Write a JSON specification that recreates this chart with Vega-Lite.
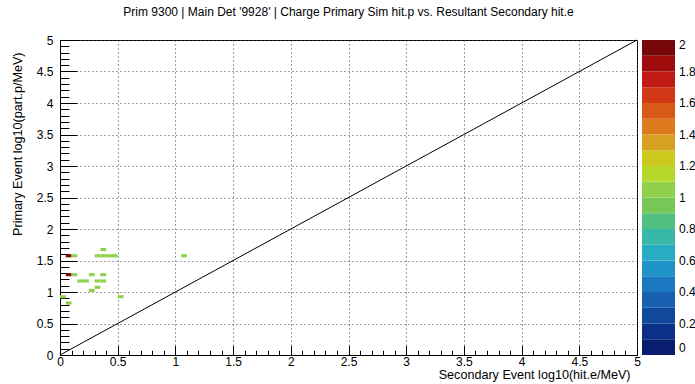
{
  "$schema": "https://vega.github.io/schema/vega-lite/v6.json",
  "width": 577,
  "height": 315,
  "autosize": {"type": "none"},
  "padding": {"left": 60, "top": 40, "right": 58, "bottom": 29},
  "background": "white",
  "title": {
    "text": "Prim 9300 | Main Det '9928' | Charge Primary Sim hit.p vs. Resultant Secondary hit.e",
    "fontSize": 12,
    "font": "Liberation Sans",
    "fontWeight": "normal",
    "color": "black",
    "anchor": "middle",
    "offset": 15
  },
  "config": {
    "view": {"stroke": "black", "strokeWidth": 1},
    "axis": {
      "labelFont": "Liberation Sans",
      "titleFont": "Liberation Sans",
      "labelFontSize": 12,
      "titleFontSize": 12.6,
      "titleFontWeight": "normal",
      "labelColor": "black",
      "titleColor": "black",
      "domainColor": "black",
      "tickColor": "black",
      "labelFlush": false,
      "labelOverlap": false
    }
  },
  "datasets": {
    "cells": [
      {"x0": 0.05, "x1": 0.10, "y0": 1.55, "y1": 1.60, "v": 2},
      {"x0": 0.10, "x1": 0.15, "y0": 1.55, "y1": 1.60, "v": 1},
      {"x0": 0.30, "x1": 0.35, "y0": 1.55, "y1": 1.60, "v": 1},
      {"x0": 0.35, "x1": 0.40, "y0": 1.55, "y1": 1.60, "v": 1},
      {"x0": 0.40, "x1": 0.45, "y0": 1.55, "y1": 1.60, "v": 1},
      {"x0": 0.45, "x1": 0.50, "y0": 1.55, "y1": 1.60, "v": 1},
      {"x0": 0.35, "x1": 0.40, "y0": 1.65, "y1": 1.70, "v": 1},
      {"x0": 1.05, "x1": 1.10, "y0": 1.55, "y1": 1.60, "v": 1},
      {"x0": 0.05, "x1": 0.10, "y0": 1.25, "y1": 1.30, "v": 2},
      {"x0": 0.10, "x1": 0.15, "y0": 1.25, "y1": 1.30, "v": 1},
      {"x0": 0.25, "x1": 0.30, "y0": 1.25, "y1": 1.30, "v": 1},
      {"x0": 0.35, "x1": 0.40, "y0": 1.25, "y1": 1.30, "v": 1},
      {"x0": 0.15, "x1": 0.20, "y0": 1.15, "y1": 1.20, "v": 1},
      {"x0": 0.20, "x1": 0.25, "y0": 1.15, "y1": 1.20, "v": 1},
      {"x0": 0.30, "x1": 0.35, "y0": 1.15, "y1": 1.20, "v": 1},
      {"x0": 0.35, "x1": 0.40, "y0": 1.15, "y1": 1.20, "v": 1},
      {"x0": 0.30, "x1": 0.35, "y0": 1.05, "y1": 1.10, "v": 1},
      {"x0": 0.25, "x1": 0.30, "y0": 1.00, "y1": 1.05, "v": 1},
      {"x0": 0.00, "x1": 0.05, "y0": 0.90, "y1": 0.95, "v": 1},
      {"x0": 0.50, "x1": 0.55, "y0": 0.90, "y1": 0.95, "v": 1},
      {"x0": 0.05, "x1": 0.10, "y0": 0.80, "y1": 0.85, "v": 1}
    ],
    "diag": [
      {"x": 0, "y": 0},
      {"x": 5, "y": 5}
    ]
  },
  "layer": [
    {
      "data": {"name": "cells"},
      "mark": {"type": "rect", "strokeWidth": 0},
      "encoding": {
        "x": {
          "field": "x0", "type": "quantitative",
          "scale": {"domain": [0, 5], "nice": false, "zero": false},
          "axis": {
            "orient": "bottom",
            "values": [0, 0.5, 1, 1.5, 2, 2.5, 3, 3.5, 4, 4.5, 5],
            "format": "~g",
            "tickSize": -9.5,
            "labelPadding": 11,
            "grid": true,
            "gridDash": [1, 3],
            "gridColor": "#444444",
            "gridOpacity": 1,
            "title": "Secondary Event log10(hit.e/MeV)",
            "titleAnchor": "end",
            "titleAlign": "right",
            "titleBaseline": "top",
            "titleX": 570,
            "titleY": 13
          }
        },
        "x2": {"field": "x1"},
        "y": {
          "field": "y0", "type": "quantitative",
          "scale": {"domain": [0, 5], "nice": false, "zero": false},
          "axis": {
            "orient": "left",
            "values": [0, 0.5, 1, 1.5, 2, 2.5, 3, 3.5, 4, 4.5, 5],
            "format": "~g",
            "tickSize": -17,
            "labelPadding": 24,
            "grid": true,
            "gridDash": [1, 3],
            "gridColor": "#444444",
            "gridOpacity": 1,
            "title": "Primary Event log10(part.p/MeV)",
            "titleAnchor": "end",
            "titleAlign": "right",
            "titleY": 12,
            "titlePadding": 12
          }
        },
        "y2": {"field": "y1"},
        "color": {
          "field": "v", "type": "quantitative",
          "scale": {
            "type": "quantize",
            "domain": [0, 2],
            "nice": false,
            "range": ["#0a1e70", "#0c3088", "#10489c", "#1860b0", "#1a78c0", "#2094c8", "#28acc4", "#38b8a8", "#50c080", "#78c858", "#8fd14b", "#b5d82a", "#ccc81e", "#d8a020", "#dc7a1c", "#d85a16", "#d03818", "#c01a14", "#a00c0c", "#780808"]
          },
          "legend": {
            "type": "gradient",
            "orient": "right",
            "offset": 5,
            "padding": 0,
            "title": null,
            "gradientLength": 315,
            "gradientThickness": 33,
            "gradientStrokeWidth": 0,
            "labelFont": "Liberation Sans",
            "labelFontSize": 12,
            "labelColor": "black",
            "labelOffset": 4,
            "labelOverlap": false,
            "format": ".1~f",
            "values": [0, 0, 0.1, 0.2, 0.3, 0.4, 0.5, 0.6, 0.7, 0.8, 0.9, 1, 1.1, 1.2, 1.3, 1.4, 1.5, 1.6, 1.7, 1.8, 1.9, 2],
            "labelExpr": "round(datum.value * 10) % 2 === 0 ? datum.label : ''"
          }
        }
      }
    },
    {
      "data": {"name": "diag"},
      "mark": {"type": "line", "color": "black", "strokeWidth": 1},
      "encoding": {
        "x": {
          "field": "x", "type": "quantitative",
          "scale": {"domain": [0, 5], "nice": false, "zero": false},
          "axis": {
            "orient": "bottom",
            "values": [0, 0.1, 0.2, 0.3, 0.4, 0.5, 0.6, 0.7, 0.8, 0.9, 1, 1.1, 1.2, 1.3, 1.4, 1.5, 1.6, 1.7, 1.8, 1.9, 2, 2.1, 2.2, 2.3, 2.4, 2.5, 2.6, 2.7, 2.8, 2.9, 3, 3.1, 3.2, 3.3, 3.4, 3.5, 3.6, 3.7, 3.8, 3.9, 4, 4.1, 4.2, 4.3, 4.4, 4.5, 4.6, 4.7, 4.8, 4.9, 5],
            "tickSize": -4.7,
            "labels": false,
            "domain": false,
            "grid": false,
            "title": null
          }
        },
        "y": {
          "field": "y", "type": "quantitative",
          "scale": {"domain": [0, 5], "nice": false, "zero": false},
          "axis": {
            "orient": "left",
            "values": [0, 0.1, 0.2, 0.3, 0.4, 0.5, 0.6, 0.7, 0.8, 0.9, 1, 1.1, 1.2, 1.3, 1.4, 1.5, 1.6, 1.7, 1.8, 1.9, 2, 2.1, 2.2, 2.3, 2.4, 2.5, 2.6, 2.7, 2.8, 2.9, 3, 3.1, 3.2, 3.3, 3.4, 3.5, 3.6, 3.7, 3.8, 3.9, 4, 4.1, 4.2, 4.3, 4.4, 4.5, 4.6, 4.7, 4.8, 4.9, 5],
            "tickSize": -9,
            "labels": false,
            "domain": false,
            "grid": false,
            "title": null
          }
        }
      }
    }
  ],
  "resolve": {"axis": {"x": "independent", "y": "independent"}}
}
